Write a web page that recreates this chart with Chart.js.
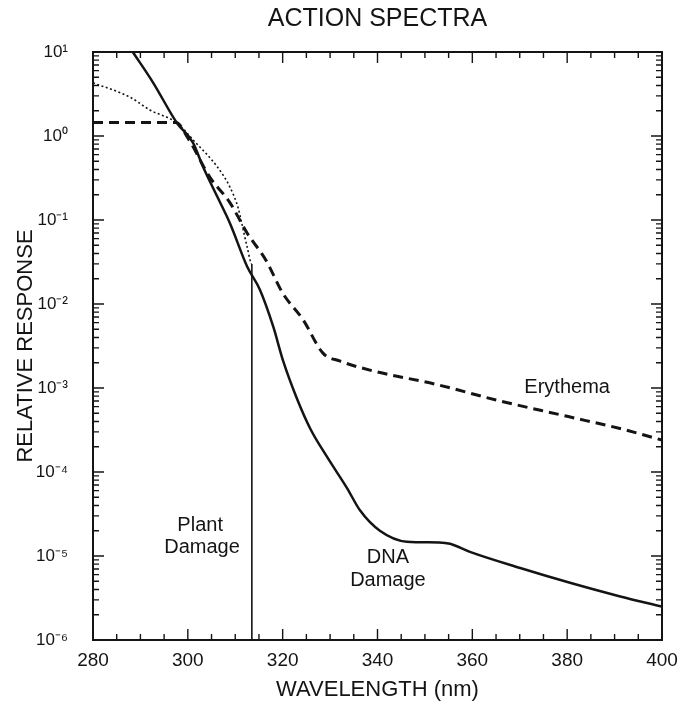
<!DOCTYPE html>
<html>
<head>
<meta charset="utf-8">
<title>Action Spectra</title>
<script src="https://cdn.jsdelivr.net/npm/chart.js@4.4.1/dist/chart.umd.min.js"></script>
<style>
    html, body { margin: 0; padding: 0; background: #fff; }
    #wrap { width: 692px; height: 717px; position: relative; }
</style>
</head>
<body>
<div id="wrap"><canvas id="spectraChart"></canvas></div>
<script>
// values (wavelength in nm, relative response)
const erythemaWl  = [280, 290, 297.5, 300, 304.7, 308.9, 312.5, 316.5, 320, 324.3, 328.5, 332, 339, 352.5, 365, 380, 392, 400];
const erythemaVal = [1.45, 1.45, 1.45, 0.95, 0.32, 0.16, 0.07, 0.033, 0.0135, 0.0065, 0.0026, 0.0021, 0.0016, 0.0011, 0.00072, 0.00046, 0.00032, 0.00024];

const dnaWl  = [288.4, 292.7, 297.7, 301.1, 303.2, 306.2, 308.9, 312.5, 315.2, 318, 320.1, 323, 325.8, 329.4, 333.6, 336.3, 340.5, 346.2, 353, 355.3, 359.5, 370.1, 380.6, 391.2, 400];
const dnaVal = [10, 4.3, 1.43, 0.83, 0.43, 0.19, 0.091, 0.028, 0.0148, 0.0054, 0.0021, 0.00075, 0.00033, 0.00015, 0.000064, 0.000035, 0.00002, 0.0000148, 0.0000145, 0.000014, 0.0000112, 0.0000072, 0.0000048, 0.0000033, 0.0000025];

const plantWl  = [280, 287.8, 292, 297.7, 301.1, 306.2, 308.9, 310.6, 311.4, 312.5, 313.5, 313.5];
const plantVal = [4.3, 2.9, 2.04, 1.43, 0.9, 0.43, 0.245, 0.14, 0.09, 0.048, 0.03, 0.000001];

const xTicks = [280, 300, 320, 340, 360, 380, 400];
const yExponents = [-6, -5, -4, -3, -2, -1, 0, 1];

const notes = [
    { text: 'Erythema', wl: 380, val: 1.02e-3 },
    { text: 'Plant', wl: 302.6, val: 2.3e-5 },
    { text: 'Damage', wl: 303, val: 1.26e-5 },
    { text: 'DNA', wl: 342.2, val: 9.5e-6 },
    { text: 'Damage', wl: 342.2, val: 5.1e-6 }
];

const INK = '#141414';
const FONT = '"Liberation Sans", Arial, sans-serif';
const SUP = { '-': '\u207B', '0': '\u2070', '1': '\u00B9', '2': '\u00B2', '3': '\u00B3', '4': '\u2074', '5': '\u2075', '6': '\u2076', '7': '\u2077', '8': '\u2078', '9': '\u2079' };

function toPoints(xs, ys) {
    return xs.map((x, i) => ({ x: x, y: ys[i] }));
}

// frame, inward tick marks and the curve labels
const frameTicks = {
    id: 'frameTicks',
    afterDraw(chart) {
        const { ctx, chartArea: a, scales: { x, y } } = chart;
        ctx.save();
        ctx.strokeStyle = INK;
        ctx.lineWidth = 2;
        ctx.strokeRect(a.left, a.top, a.right - a.left, a.bottom - a.top);

        ctx.lineWidth = 1.4;
        ctx.beginPath();
        for (let w = 285; w < 400; w += 5) {
            const px = x.getPixelForValue(w);
            const len = w % 20 === 0 ? 11 : 6;
            ctx.moveTo(px, a.bottom); ctx.lineTo(px, a.bottom - len);
            ctx.moveTo(px, a.top); ctx.lineTo(px, a.top + len);
        }
        for (let e = -6; e < 1; e++) {
            for (let m = 1; m < 10; m++) {
                const py = y.getPixelForValue(m * Math.pow(10, e));
                const len = m === 1 ? 11 : 6;
                ctx.moveTo(a.left, py); ctx.lineTo(a.left + len, py);
                ctx.moveTo(a.right, py); ctx.lineTo(a.right - len, py);
            }
        }
        ctx.stroke();

        ctx.fillStyle = INK;
        ctx.font = '20px ' + FONT;
        ctx.textAlign = 'center';
        ctx.textBaseline = 'middle';
        notes.forEach(n => ctx.fillText(n.text, x.getPixelForValue(n.wl), y.getPixelForValue(n.val)));
        ctx.restore();
    }
};

const ctx = document.getElementById('spectraChart');
new Chart(ctx, {
    type: 'line',
    data: {
        datasets: [
            {
                label: 'Erythema',
                data: toPoints(erythemaWl, erythemaVal),
                borderColor: INK,
                borderWidth: 3,
                borderDash: [10, 6],
                pointRadius: 0,
                cubicInterpolationMode: 'monotone'
            },
            {
                label: 'DNA Damage',
                data: toPoints(dnaWl, dnaVal),
                borderColor: INK,
                borderWidth: 2.5,
                pointRadius: 0,
                cubicInterpolationMode: 'monotone'
            },
            {
                label: 'Plant Damage',
                data: toPoints(plantWl, plantVal),
                borderColor: INK,
                borderWidth: 1.6,
                borderDash: [2, 2.5],
                pointRadius: 0,
                cubicInterpolationMode: 'monotone',
                segment: {
                    borderDash: c => c.p1DataIndex === plantWl.length - 1 ? [] : [2, 2.5]
                }
            }
        ]
    },
    options: {
        responsive: true,
        maintainAspectRatio: false,
        animation: false,
        layout: { padding: { left: 8, right: 30, top: 0, bottom: 0 } },
        plugins: {
            legend: { display: false },
            tooltip: { enabled: false },
            title: {
                display: true,
                text: 'ACTION SPECTRA',
                color: INK,
                fullSize: false,
                font: { family: FONT, size: 25, weight: 'normal' },
                padding: { top: 4, bottom: 18 }
            }
        },
        scales: {
            x: {
                type: 'linear',
                min: 280,
                max: 400,
                afterBuildTicks: s => { s.ticks = xTicks.map(v => ({ value: v })); },
                afterFit: s => { s.height = 77; },
                grid: { display: false, drawTicks: false },
                border: { display: false },
                ticks: { color: INK, padding: 9, font: { family: FONT, size: 19 } },
                title: {
                    display: true,
                    text: 'WAVELENGTH (nm)',
                    color: INK,
                    font: { family: FONT, size: 22 },
                    padding: { top: 0, bottom: 14 }
                }
            },
            y: {
                type: 'logarithmic',
                min: 1e-6,
                max: 10,
                afterBuildTicks: s => { s.ticks = yExponents.map(e => ({ value: Math.pow(10, e) })); },
                afterFit: s => { s.width = 85; },
                grid: { display: false, drawTicks: false },
                border: { display: false },
                ticks: {
                    color: INK,
                    padding: 25,
                    font: { family: FONT, size: 17 },
                    callback: v => '10' + String(Math.round(Math.log10(v))).split('').map(c => SUP[c]).join('')
                },
                title: {
                    display: true,
                    text: 'RELATIVE RESPONSE',
                    color: INK,
                    font: { family: FONT, size: 22 },
                    padding: { top: 5, bottom: 0 }
                }
            }
        }
    },
    plugins: [frameTicks]
});
</script>
</body>
</html>
